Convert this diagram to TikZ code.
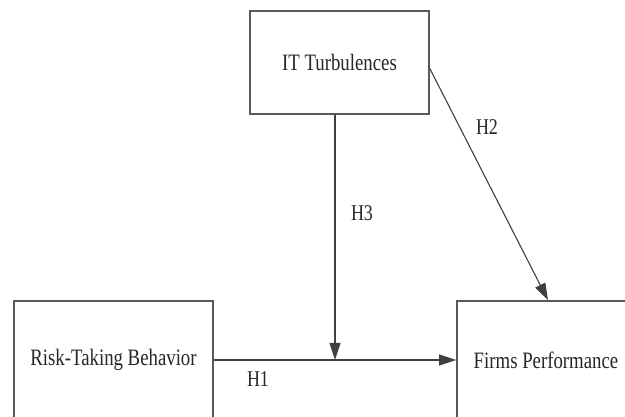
\documentclass[tikz,border=0pt]{standalone}
\usepackage{fontspec}
\setmainfont{Liberation Serif}[FakeStretch=0.8]
\usetikzlibrary{arrows.meta}

\begin{document}
\begin{tikzpicture}[x=1pt, y=1pt,
    varbox/.style={draw=black!65, line width=1.6pt, inner sep=0pt,
      minimum width=179pt, minimum height=103pt,
      font=\fontsize{23.5}{27}\selectfont, text=black!85},
    hyp/.style={draw=black!75, line width=1.1pt,
      -{Triangle[length=17pt, width=11pt]}},
    hyplabel/.style={font=\fontsize{22.5}{26}\selectfont, text=black!85}]
    \useasboundingbox (0, 0) rectangle (625, 417);
    \fill [white] (0, 0) rectangle (625, 417);

    \node [varbox] (it) at (339.5, 354.5) {IT Turbulences};
    \node [varbox, minimum width=199pt, minimum height=118pt] (risk) at (113.5, 57) {Risk-Taking Behavior};
    \node [varbox, minimum width=178pt, minimum height=118pt] (firms) at (546, 57) {Firms Performance};
    \coordinate (join) at (335, 57);

    \draw [hyp] (risk.east) -- (firms.west);
    \draw [hyp] (it.south -| join) -- (join);
    \draw [hyp] ([yshift=-6pt]it.east) -- ([xshift=2pt]firms.north);

    \node [hyplabel] at (487, 290) {H2};
    \node [hyplabel] at (362, 204) {H3};
    \node [hyplabel] at (258, 38) {H1};
  \end{tikzpicture}
\end{document}
